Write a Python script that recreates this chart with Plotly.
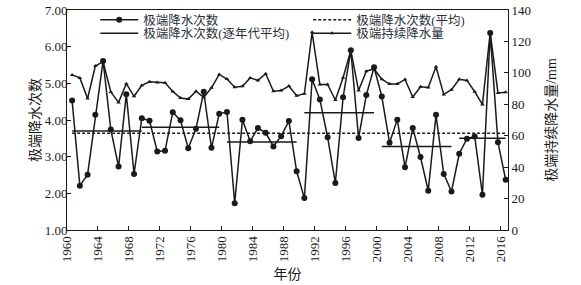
import plotly.graph_objects as go

years = list(range(1960, 2017))

# 极端降水次数 (annual)
counts = [4.53, 2.21, 2.51, 4.14, 5.61, 3.74, 2.73, 4.70, 2.53, 4.05,
          3.98, 3.14, 3.16, 4.21, 3.99, 3.23, 3.76, 4.77, 3.24, 4.17,
          4.22, 1.73, 4.01, 3.42, 3.78, 3.65, 3.28, 3.56, 3.97, 2.60,
          1.87, 5.11, 4.56, 3.53, 2.28, 4.62, 5.90, 3.51, 4.68, 5.44,
          4.64, 3.38, 4.01, 2.71, 3.78, 2.99, 2.07, 4.14, 2.53, 2.05,
          3.08, 3.49, 3.55, 1.96, 6.37, 3.39, 2.37]

# 极端持续降水量 (mm)
rain = [98.7, 96.8, 83.7, 104.3, 107.1, 87.8, 81.2, 93.1, 85.1, 92.0,
        94.3, 93.9, 93.7, 88.2, 84.0, 83.3, 88.3, 84.4, 90.5, 99.0,
        96.1, 90.9, 91.5, 96.8, 95.2, 99.5, 88.3, 88.7, 91.6, 85.5,
        86.7, 125.8, 92.6, 92.6, 82.7, 96.9, 114.3, 88.8, 101.1, 102.5,
        96.0, 92.9, 92.9, 95.8, 84.6, 91.2, 90.7, 103.9, 86.3, 89.3,
        95.9, 95.2, 88.0, 79.8, 125.7, 87.2, 87.6]

overall_mean = 3.64

decade_start = [1960, 1969, 1980, 1990, 2000, 2010]
decade_end = [1969, 1979, 1989, 1999, 2009, 2016]
decade_mean = [3.70, 3.80, 3.40, 4.20, 3.28, 3.50]

tick_years = list(range(1960, 2017, 4))
tick_shift = 0.66

names = ["极端降水次数", "极端降水次数(平均)", "极端降水次数(逐年代平均)", "极端持续降水量"]

FONT = "Liberation Serif, Noto Sans CJK SC"
INK = "#1a1a1a"

fig = go.Figure()

fig.add_trace(go.Scatter(
    x=years, y=counts, mode="lines+markers", name=names[0],
    line=dict(color=INK, width=1.5),
    marker=dict(symbol="circle", size=6, color=INK),
    legend="legend"))

fig.add_trace(go.Scatter(
    x=[years[0], years[-1]], y=[overall_mean, overall_mean], mode="lines",
    name=names[1], line=dict(color=INK, width=1.5, dash="3px,2px"),
    legend="legend2"))

for i, (s, e, m) in enumerate(zip(decade_start, decade_end, decade_mean)):
    fig.add_trace(go.Scatter(
        x=[s, e], y=[m, m], mode="lines", name=names[2],
        line=dict(color=INK, width=1.5), showlegend=(i == 0),
        legend="legend3"))

fig.add_trace(go.Scatter(
    x=years, y=rain, mode="lines+markers", name=names[3], yaxis="y2",
    line=dict(color=INK, width=1.5),
    marker=dict(symbol="triangle-up", size=4, color=INK),
    legend="legend4"))

leg_common = dict(bgcolor="rgba(0,0,0,0)", borderwidth=0, itemwidth=38,
                  font=dict(family=FONT, size=12.5, color="#2a2f3a"),
                  xanchor="left", yanchor="middle", orientation="v",
                  itemclick=False, itemdoubleclick=False)

fig.update_layout(
    width=581, height=285,
    margin=dict(l=67, r=73, t=10, b=55, pad=0, autoexpand=False),
    paper_bgcolor="white", plot_bgcolor="white",
    font=dict(family=FONT, size=13, color=INK),
    showlegend=True, hovermode=False,
    legend=dict(x=0.064, y=0.954, **leg_common),
    legend2=dict(x=0.547, y=0.954, **leg_common),
    legend3=dict(x=0.064, y=0.893, **leg_common),
    legend4=dict(x=0.547, y=0.893, **leg_common),
    xaxis=dict(
        range=[1960 - tick_shift, 2016.3],
        tickmode="array",
        tickvals=[t - tick_shift for t in tick_years],
        ticktext=[str(t) for t in tick_years],
        tickangle=-90, ticks="inside", ticklen=4, tickcolor=INK,
        showline=True, linecolor=INK, linewidth=1, mirror=True,
        showgrid=False, zeroline=False, automargin=True,
        tickfont=dict(family=FONT, size=13, color=INK),
        title=dict(text="年份", font=dict(family=FONT, size=14, color=INK), standoff=7),
    ),
    yaxis=dict(
        range=[1, 7], dtick=1, tick0=1, tickformat=".2f",
        ticks="inside", ticklen=4, tickcolor=INK, ticklabelstandoff=-4,
        showline=True, linecolor=INK, linewidth=1,
        showgrid=False, zeroline=False, automargin=True,
        tickfont=dict(family=FONT, size=13, color=INK),
        title=dict(text="极端降水次数", font=dict(family=FONT, size=14, color=INK), standoff=0),
    ),
    yaxis2=dict(
        range=[0, 140], dtick=20, tick0=0, overlaying="y", side="right",
        ticks="inside", ticklen=4, tickcolor=INK,
        showline=True, linecolor=INK, linewidth=1,
        showgrid=False, zeroline=False, automargin=True,
        tickfont=dict(family=FONT, size=13, color=INK),
        title=dict(text="极端持续降水量/mm", font=dict(family=FONT, size=14, color=INK), standoff=16),
    ),
)

fig.write_html("out.html", config={"displayModeBar": False, "staticPlot": True},
               post_script="document.body.style.margin='0px';")
